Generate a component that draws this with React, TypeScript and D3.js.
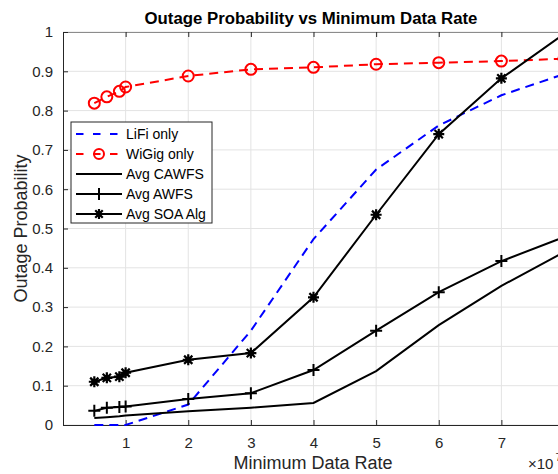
import React, { useEffect, useRef } from "react";
import * as d3 from "d3";

// minimum data rate (x 10^7)
const rates = [0.5, 0.7, 0.9, 1, 2, 3, 4, 5, 6, 7, 8];

const lifiOnly = [0, 0, 0, 0, 0.052, 0.24, 0.473, 0.65, 0.762, 0.839, 0.893];
const wigigOnly = [0.819, 0.835, 0.849, 0.86, 0.888, 0.905, 0.91, 0.918, 0.922, 0.926, 0.932];
const avgCawfs = [0.018, 0.02, 0.022, 0.024, 0.035, 0.044, 0.056, 0.137, 0.254, 0.354, 0.44];
const avgAwfs = [0.036, 0.044, 0.046, 0.047, 0.066, 0.081, 0.14, 0.24, 0.338, 0.417, 0.478];
const avgSoa = [0.11, 0.12, 0.123, 0.133, 0.166, 0.183, 0.325, 0.535, 0.74, 0.882, 0.995];

const xTicks = [1, 2, 3, 4, 5, 6, 7];
const yTicks = [0, 0.1, 0.2, 0.3, 0.4, 0.5, 0.6, 0.7, 0.8, 0.9, 1];

const legendLabels = ["LiFi only", "WiGig only", "Avg CAWFS", "Avg AWFS", "Avg SOA Alg"];

export default function App() {
    const svgRef = useRef<SVGSVGElement>(null);

    useEffect(() => {
        document.body.style.margin = "0";
        const height = 474;
        const svg = d3.select(svgRef.current);
        svg.selectAll("*").remove();

        const font = "'Liberation Sans', Arial, Helvetica, sans-serif";
        const axisColor = "#262626";
        const margin = { top: 32, left: 63, bottom: 49 };

        const x = d3.scaleLinear().domain([0, 8]).range([margin.left, 564]);
        const y = d3.scaleLinear().domain([0, 1]).range([height - margin.bottom, margin.top]);

        const [x0, x1] = x.range();
        const [yb, yt] = y.range();

        // grid
        const grid = svg.append("g");
        grid.selectAll("line.gx")
            .data(xTicks)
            .enter()
            .append("line")
            .attr("x1", (d) => x(d))
            .attr("x2", (d) => x(d))
            .attr("y1", yb)
            .attr("y2", yt)
            .attr("stroke", "#e3e3e3")
            .attr("stroke-width", 1);
        grid.selectAll("line.gy")
            .data(yTicks)
            .enter()
            .append("line")
            .attr("x1", x0)
            .attr("x2", x1)
            .attr("y1", (d) => y(d))
            .attr("y2", (d) => y(d))
            .attr("stroke", "#e3e3e3")
            .attr("stroke-width", 1);

        // axes (MATLAB style, ticks inward, box on)
        const gx = svg.append("g")
            .attr("transform", `translate(0,${yb})`)
            .call(d3.axisBottom(x).tickValues(xTicks).tickSizeInner(-5).tickSizeOuter(0).tickPadding(12).tickFormat(d3.format("d")));
        const gxTop = svg.append("g")
            .attr("transform", `translate(0,${yt})`)
            .call(d3.axisTop(x).tickValues(xTicks).tickSizeInner(-5).tickSizeOuter(0).tickFormat(() => ""));
        const gy = svg.append("g")
            .attr("transform", `translate(${x0},0)`)
            .call(d3.axisLeft(y).tickValues(yTicks).tickSizeInner(-5).tickSizeOuter(0).tickPadding(10)
                .tickFormat((d) => (d === 0 || d === 1 ? d3.format("d")(d as number) : d3.format(".1f")(d as number))));

        [gx, gxTop, gy].forEach((g) => {
            g.selectAll(".domain").attr("stroke", axisColor).attr("stroke-width", 1);
            g.selectAll(".tick line").attr("stroke", axisColor);
            g.selectAll("text")
                .attr("fill", axisColor)
                .style("font-family", font)
                .style("font-size", "15px");
        });
        gxTop.selectAll(".domain").attr("stroke", "#8c8c8c");

        // series
        const lineGen = d3.line<number>()
            .x((d, i) => x(rates[i]))
            .y((d) => y(d));

        const plot = svg.append("g");

        const drawPlus = (g: any, cx: number, cy: number, r: number) => {
            g.append("path")
                .attr("d", `M${cx - r},${cy}H${cx + r}M${cx},${cy - r}V${cy + r}`)
                .attr("stroke", "#000")
                .attr("stroke-width", 2);
        };
        const drawStar = (g: any, cx: number, cy: number, r: number) => {
            const k = r * 0.75;
            g.append("path")
                .attr("d", `M${cx - r},${cy}H${cx + r}M${cx},${cy - r}V${cy + r}M${cx - k},${cy - k}L${cx + k},${cy + k}M${cx - k},${cy + k}L${cx + k},${cy - k}`)
                .attr("stroke", "#000")
                .attr("stroke-width", 2.2);
            g.append("circle").attr("cx", cx).attr("cy", cy).attr("r", r * 0.55).attr("fill", "#000");
        };
        const drawCircle = (g: any, cx: number, cy: number, r: number) => {
            g.append("circle")
                .attr("cx", cx)
                .attr("cy", cy)
                .attr("r", r)
                .attr("fill", "none")
                .attr("stroke", "#ff0000")
                .attr("stroke-width", 2);
        };

        plot.append("path")
            .datum(lifiOnly)
            .attr("d", lineGen)
            .attr("fill", "none")
            .attr("stroke", "#0000ff")
            .attr("stroke-width", 2)
            .attr("stroke-dasharray", "9,6");

        plot.append("path")
            .datum(wigigOnly)
            .attr("d", lineGen)
            .attr("fill", "none")
            .attr("stroke", "#ff0000")
            .attr("stroke-width", 2)
            .attr("stroke-dasharray", "9,6");
        wigigOnly.forEach((v, i) => drawCircle(plot, x(rates[i]), y(v), 5.5));

        plot.append("path")
            .datum(avgCawfs)
            .attr("d", lineGen)
            .attr("fill", "none")
            .attr("stroke", "#000")
            .attr("stroke-width", 2);

        plot.append("path")
            .datum(avgAwfs)
            .attr("d", lineGen)
            .attr("fill", "none")
            .attr("stroke", "#000")
            .attr("stroke-width", 2);
        avgAwfs.forEach((v, i) => drawPlus(plot, x(rates[i]), y(v), 6));

        plot.append("path")
            .datum(avgSoa)
            .attr("d", lineGen)
            .attr("fill", "none")
            .attr("stroke", "#000")
            .attr("stroke-width", 2);
        avgSoa.forEach((v, i) => drawStar(plot, x(rates[i]), y(v), 5.5));

        // title and labels
        svg.append("text")
            .attr("x", 311)
            .attr("y", 24)
            .attr("text-anchor", "middle")
            .style("font-family", font)
            .style("font-size", "16.8px")
            .style("font-weight", "bold")
            .attr("fill", "#000")
            .text("Outage Probability vs Minimum Data Rate");

        svg.append("text")
            .attr("x", 313)
            .attr("y", 469)
            .attr("text-anchor", "middle")
            .style("font-family", font)
            .style("font-size", "18px")
            .attr("fill", axisColor)
            .text("Minimum Data Rate");

        svg.append("text")
            .attr("transform", "rotate(-90)")
            .attr("x", -(yb + yt) / 2)
            .attr("y", 27)
            .attr("text-anchor", "middle")
            .style("font-family", font)
            .style("font-size", "18px")
            .attr("fill", axisColor)
            .text("Outage Probability");

        const exp = svg.append("text")
            .attr("x", 528)
            .attr("y", 469)
            .style("font-family", font)
            .style("font-size", "15px")
            .attr("fill", axisColor);
        exp.append("tspan").text("\u00d710");
        exp.append("tspan").attr("dx", 2).attr("dy", -8).style("font-size", "11px").text("7");

        // legend
        const lg = svg.append("g").attr("transform", "translate(71,122)");
        lg.append("rect")
            .attr("width", 141)
            .attr("height", 101)
            .attr("fill", "#fff")
            .attr("stroke", axisColor)
            .attr("stroke-width", 1);
        legendLabels.forEach((label, i) => {
            const cy = 12 + i * 20;
            const row = lg.append("g");
            const stroke = i === 0 ? "#0000ff" : i === 1 ? "#ff0000" : "#000";
            row.append("line")
                .attr("x1", 5)
                .attr("x2", 51)
                .attr("y1", cy)
                .attr("y2", cy)
                .attr("stroke", stroke)
                .attr("stroke-width", 2)
                .attr("stroke-dasharray", i < 2 ? "7.5,9.5" : null);
            if (i === 1) drawCircle(row, 28, cy, 5);
            if (i === 3) drawPlus(row, 28, cy, 6);
            if (i === 4) drawStar(row, 28, cy, 5);
            row.append("text")
                .attr("x", 55)
                .attr("y", cy + 5)
                .style("font-family", font)
                .style("font-size", "14px")
                .attr("fill", "#000")
                .text(label);
        });
    }, []);

    return <svg ref={svgRef} width={558} height={474} style={{ display: "block", background: "#fff" }} />;
}
